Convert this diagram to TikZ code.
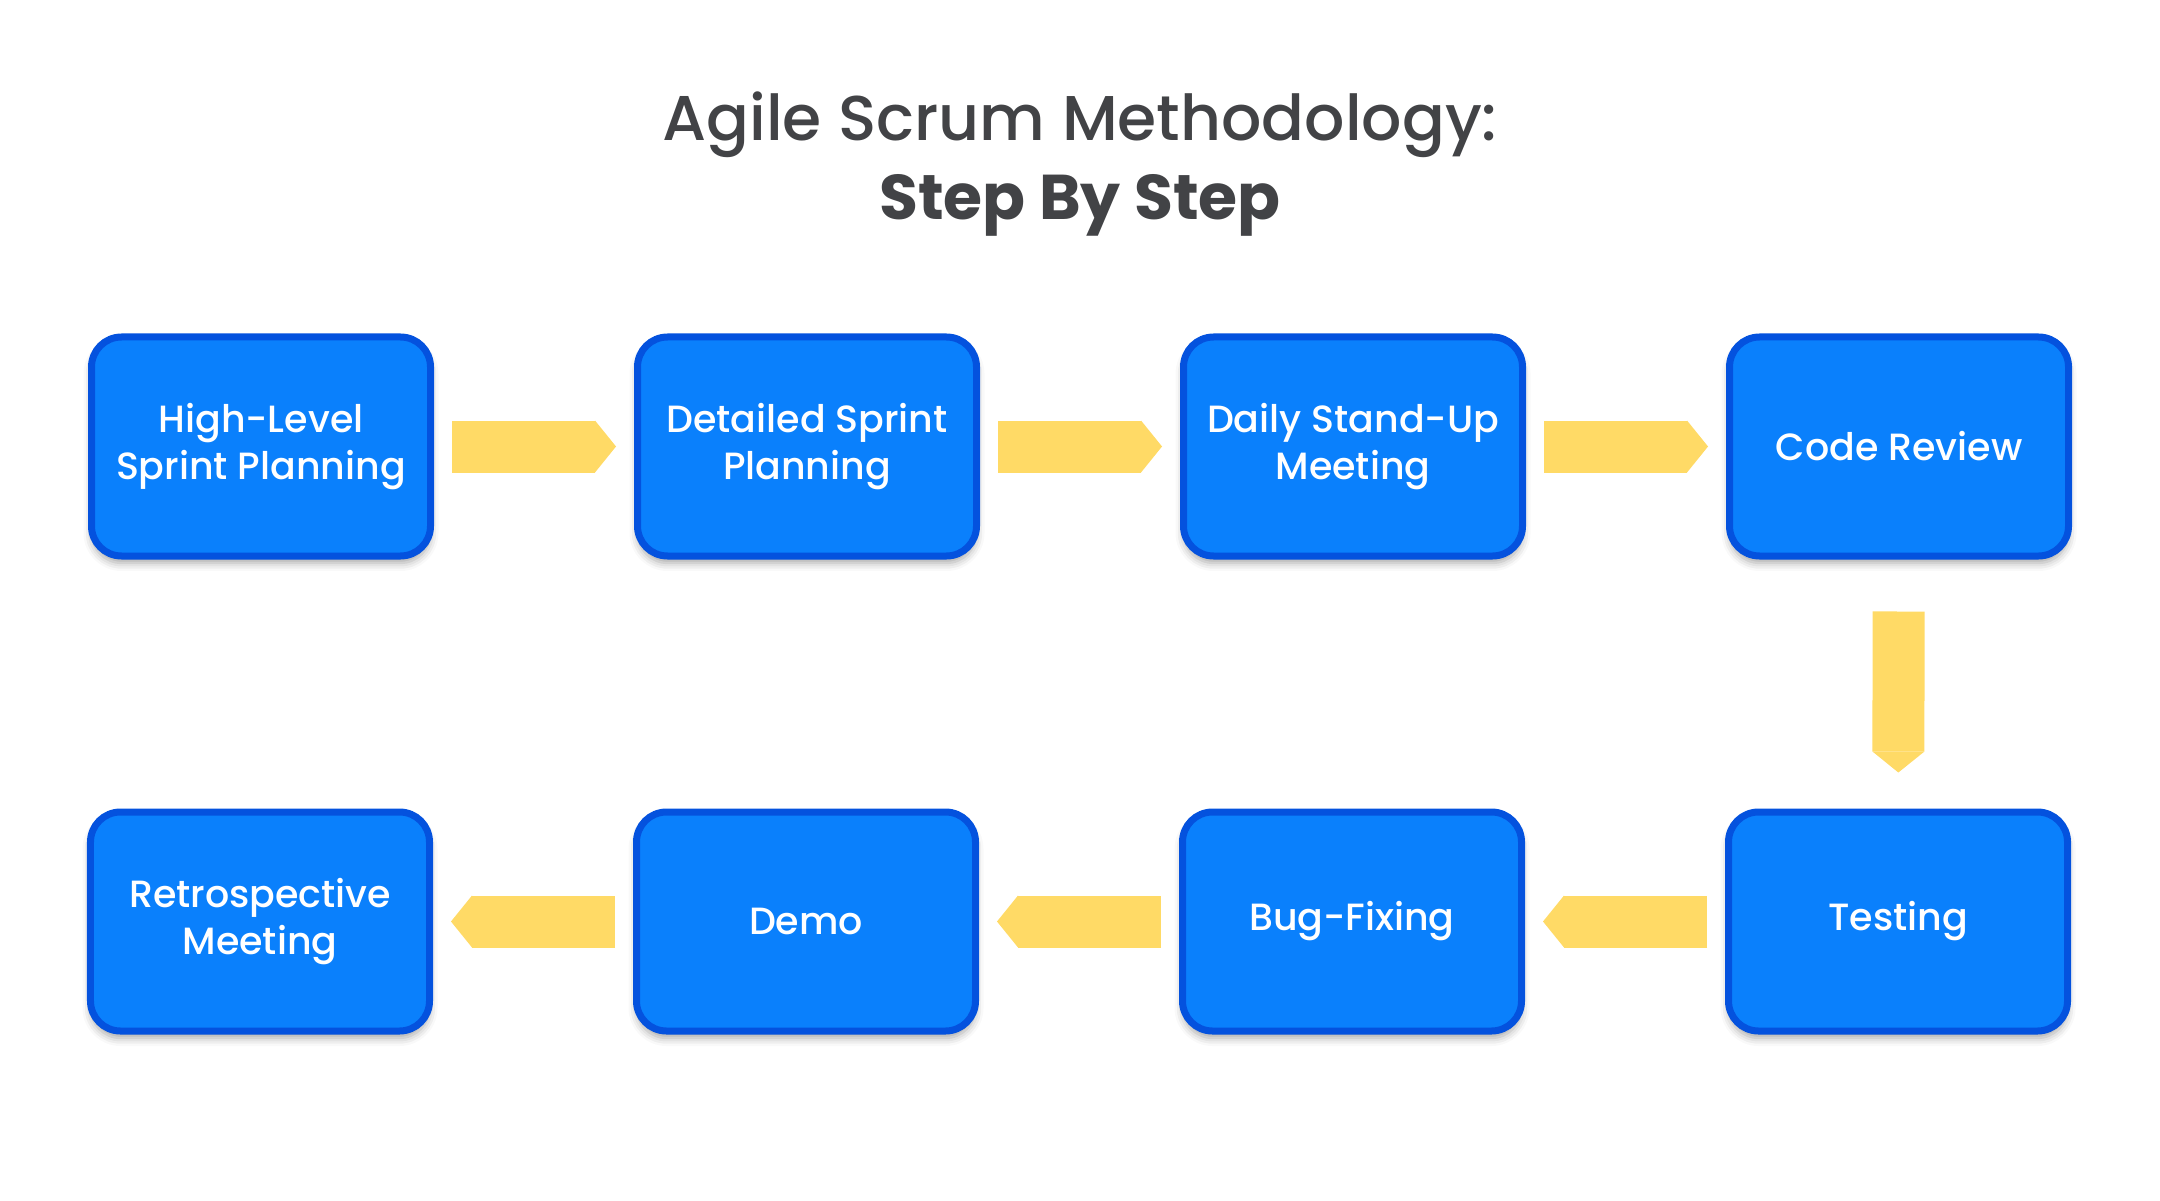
\documentclass[tikz,border=0pt]{standalone}
\usepackage{fontspec}
\setmainfont{Poppins}
\newfontfamily\medfont{Poppins Medium}
\usepackage{xcolor}
\usepackage{tikz}
\usetikzlibrary{positioning, arrows.meta, shadows.blur}

\definecolor{stepblue}{HTML}{0A80FC}
\definecolor{stepedge}{HTML}{0452DE}
\definecolor{stepyellow}{HTML}{FFDA66}
\definecolor{titlegray}{HTML}{424346}

\begin{document}
\begin{tikzpicture}[
  stepbox/.style = {
    rectangle, draw=stepedge, fill=stepblue,
    line width=0.07cm, rounded corners=0.3cm, align=center,
    minimum width=3.39cm, minimum height=2.19cm,
    text=white, font=\medfont\fontsize{10.8}{13.6}\selectfont,
    blur shadow={shadow xshift=0pt, shadow yshift=-0.07cm,
                 shadow blur radius=0.08cm, shadow opacity=35}},
  blockarr/.style = {
    draw=stepyellow, line width=0.52cm,
    -{Triangle[length=0.21cm, width=0.52cm, line width=0pt]},
    shorten <=0.18cm, shorten >=0.18cm},
  ttl/.style = {text=titlegray, align=center,
                font=\fontsize{18}{22.5}\selectfont}
]

\useasboundingbox (0,0) rectangle (21.6,12);

%── Title ────────────────────────────────────────────────────────
\node[ttl] (TTL) at (10.8, 10.36)
  {{\medfont Agile Scrum Methodology:}\\\textbf{Step By Step}};

%── Top row ──────────────────────────────────────────────────────
\node[stepbox] (HSP) at (2.61, 7.535) {High-Level\\Sprint Planning};
\node[stepbox, right=2cm of HSP] (DSP) {Detailed Sprint\\Planning};
\node[stepbox, right=2cm of DSP] (DSM) {Daily Stand-Up\\Meeting};
\node[stepbox, right=2cm of DSM] (CR)  {Code Review};

%── Bottom row ───────────────────────────────────────────────────
\node[stepbox] (TS) at (18.98, 2.785) {Testing};
\node[stepbox, left=2cm of TS] (BF) {Bug-Fixing};
\node[stepbox, left=2cm of BF] (DM) {Demo};
\node[stepbox, left=2cm of DM] (RM) {Retrospective\\Meeting};

%── Arrows ───────────────────────────────────────────────────────
\draw[blockarr] (HSP) -- (DSP);
\draw[blockarr] (DSP) -- (DSM);
\draw[blockarr] (DSM) -- (CR);
\draw[blockarr, shorten <=0.52cm, shorten >=0.36cm] (CR) -- (TS);
\draw[blockarr] (TS) -- (BF);
\draw[blockarr] (BF) -- (DM);
\draw[blockarr] (DM) -- (RM);

\end{tikzpicture}
\end{document}
